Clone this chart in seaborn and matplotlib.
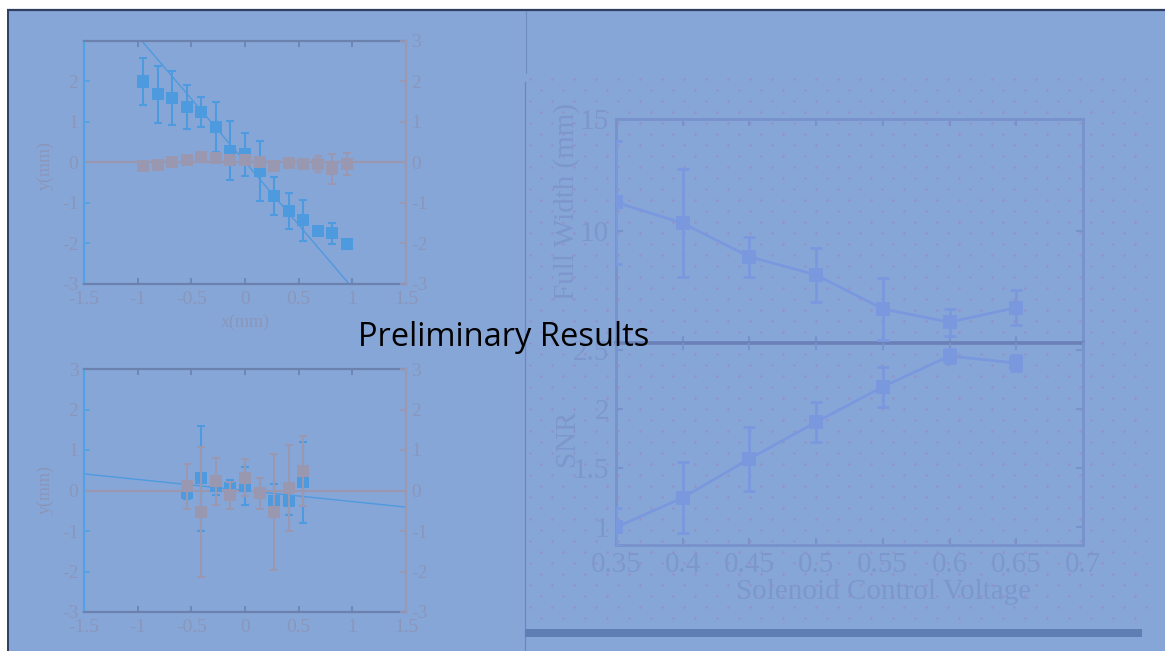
import numpy as np
import matplotlib
matplotlib.use("Agg")
import matplotlib.pyplot as plt
import seaborn as sns
from matplotlib.patches import Rectangle

# ---------------- data ----------------
# upper-left panel: beam position scan
top_x = [-0.95, -0.81, -0.68, -0.54, -0.41, -0.27, -0.14, 0.0,
         0.14, 0.27, 0.41, 0.54, 0.68, 0.81, 0.95]
top_blue_y = [2.0, 1.68, 1.6, 1.37, 1.24, 0.88, 0.29, 0.2,
              -0.21, -0.83, -1.19, -1.43, -1.69, -1.75, -2.01]
top_blue_err = [0.57, 0.71, 0.67, 0.54, 0.37, 0.61, 0.73, 0.53,
                0.73, 0.46, 0.44, 0.5, 0.0, 0.26, 0.0]
top_gray_y = [-0.08, -0.05, 0.02, 0.07, 0.13, 0.1, 0.05, 0.07,
              0.01, -0.08, -0.02, -0.03, -0.04, -0.17, -0.03]
top_gray_err = [0.0, 0.0, 0.0, 0.0, 0.0, 0.0, 0.0, 0.0,
                0.0, 0.0, 0.0, 0.0, 0.2, 0.37, 0.27]
top_fit_x = [-0.96, 0.97]
top_fit_y = [3.0, -3.0]

# lower-left panel
bot_x = [-0.54, -0.41, -0.27, -0.14, 0.0, 0.14, 0.27, 0.41, 0.54]
bot_blue_y = [-0.05, 0.3, 0.1, 0.05, 0.1, -0.05, -0.25, -0.25, 0.2]
bot_blue_err = [0.15, 1.3, 0.2, 0.2, 0.47, 0.1, 0.4, 0.35, 1.0]
bot_gray_y = [0.1, -0.53, 0.23, -0.12, 0.32, -0.07, -0.53, 0.07, 0.48]
bot_gray_err = [0.55, 1.6, 0.58, 0.33, 0.45, 0.38, 1.44, 1.06, 0.86]
bot_fit_x = [-1.5, 1.5]
bot_fit_y = [0.41, -0.41]

zero_x = [-1.5, 1.5]
zero_y = [0.0, 0.0]

pos_ticks = [-1.5, -1, -0.5, 0, 0.5, 1, 1.5]
pos_tick_labels = ["-1.5", "-1", "-0.5", "0", "0.5", "1", "1.5"]
y_ticks = [-3, -2, -1, 0, 1, 2, 3]
y_tick_labels = ["-3", "-2", "-1", "0", "1", "2", "3"]

# right panel: solenoid scan
voltage = [0.35, 0.4, 0.45, 0.5, 0.55, 0.6, 0.65]
width_mm = [11.28, 10.35, 8.85, 8.04, 6.52, 5.93, 6.58]
width_err = [2.76, 2.4, 0.9, 1.2, 1.4, 0.6, 0.77]
snr = [1.0, 1.25, 1.58, 1.89, 2.19, 2.45, 2.39]
snr_err = [0.16, 0.3, 0.27, 0.17, 0.17, 0.06, 0.07]

volt_ticks = [0.35, 0.4, 0.45, 0.5, 0.55, 0.6, 0.65, 0.7]
volt_tick_labels = ["0.35", "0.4", "0.45", "0.5", "0.55", "0.6", "0.65", "0.7"]
width_ticks = [5, 10, 15]
width_tick_labels = ["", "10", "15"]
snr_ticks = [1, 1.5, 2, 2.5]
snr_tick_labels = ["1", "1.5", "2", "2.5"]

# ---------------- style ----------------
sns.set_style("ticks")
plt.rcParams["font.family"] = ["Liberation Serif", "DejaVu Serif"]
plt.rcParams["axes.unicode_minus"] = False

W, H = 1165, 651
BG = "#87a6d8"
FRAME = "#2e3f5f"
BLUE = "#4d9ade"
GRAY = "#9a97b0"
BLUE_SPINE = "#52a3e6"
GRAY_SPINE = "#9b98b2"
TB_SPINE = "#6b81ae"
TXT_L = "#8a96ba"
R_COL = "#7a98dd"
R_SPINE = "#7892cc"
R_TXT = "#7d97cc"
DOT = "#9592c6"


def box(l, t, r, b):
    return [l / W, 1 - b / H, (r - l) / W, (b - t) / H]


def ftext(x, y, s, **kw):
    fig.text(x / W, 1 - y / H, s, **kw)


fig = plt.figure(figsize=(W / 100, H / 100), dpi=100, facecolor="white")

# slide background, frame and decorative dot pattern
bg = fig.add_axes([0, 0, 1, 1], zorder=-5)
bg.set_xlim(0, W)
bg.set_ylim(H, 0)
bg.axis("off")
bg.add_patch(Rectangle((8, 11), W - 8, H - 11, facecolor=BG, edgecolor="none",
                       zorder=0))
bg.plot([7, W], [10, 10], color=FRAME, lw=1.6, solid_capstyle="butt")
bg.plot([7.5, 7.5], [10, H], color=FRAME, lw=1.4, solid_capstyle="butt")
bg.plot([526, 526], [11, 73], color="#6f8bc0", lw=0.8)
bg.plot([525, 525], [82, H], color="#6a86bb", lw=0.9)
rows = np.arange(79, 625, 11)
for i, yy in enumerate(rows):
    xs = np.arange(530 + (11 if i % 2 else 0), 1152, 22)
    bg.scatter(xs, np.full(len(xs), yy), s=3.5, color=DOT, linewidths=0,
               zorder=2)
bg.add_patch(Rectangle((525, 629), 617, 8, facecolor="#5f7eb3",
                       edgecolor="none", zorder=3))


def left_panel(ax, xs, by, be, gy, ge, fx, fy, left_labels):
    ax.set_facecolor("none")
    sns.lineplot(x=fx, y=fy, ax=ax, color=BLUE, lw=1.0, zorder=2)
    sns.lineplot(x=zero_x, y=zero_y, ax=ax, color=GRAY, lw=1.6, zorder=2)
    ax.errorbar(xs, by, yerr=be, fmt="none", ecolor=BLUE, elinewidth=1.5,
                capsize=3, capthick=1.5, zorder=3)
    sns.scatterplot(x=xs, y=by, ax=ax, marker="s", s=75, color=BLUE,
                    edgecolor="none", zorder=4)
    ax.errorbar(xs, gy, yerr=ge, fmt="none", ecolor=GRAY, elinewidth=1.5,
                capsize=3, capthick=1.5, zorder=5)
    sns.scatterplot(x=xs, y=gy, ax=ax, marker="s", s=75, color=GRAY,
                    edgecolor="none", zorder=6)
    ax.set_xlim(-1.5, 1.5)
    ax.set_ylim(-3, 3)
    ax.set_xticks(pos_ticks)
    ax.set_xticklabels(pos_tick_labels)
    ax.set_yticks(y_ticks)
    if left_labels:
        ax.set_yticklabels(y_tick_labels)
    else:
        ax.set_yticklabels(y_tick_labels[:-1] + [""])
    ax.set_xlabel("")
    ax.set_ylabel("")
    ax.tick_params(axis="x", direction="in", length=4, width=1.2, top=True,
                   bottom=True, colors=TB_SPINE, labelcolor=TXT_L,
                   labelsize=14, pad=5)
    ax.tick_params(axis="y", direction="in", length=4, width=1.2, left=True,
                   right=False, colors=BLUE_SPINE, labelcolor=TXT_L,
                   labelsize=14, pad=4)
    for side in ("top", "bottom"):
        ax.spines[side].set_color(TB_SPINE)
        ax.spines[side].set_linewidth(1.6)
    ax.spines["left"].set_color(BLUE_SPINE)
    ax.spines["left"].set_linewidth(1.6)
    ax.spines["right"].set_visible(False)

    ax2 = ax.twinx()
    ax2.set_facecolor("none")
    ax2.set_ylim(-3, 3)
    ax2.set_yticks(y_ticks)
    ax2.set_yticklabels(y_tick_labels)
    ax2.tick_params(axis="y", direction="in", length=4, width=1.2,
                    colors=GRAY_SPINE, labelcolor=TXT_L, labelsize=14, pad=4)
    for side in ("top", "bottom", "left"):
        ax2.spines[side].set_visible(False)
    ax2.spines["right"].set_color(GRAY_SPINE)
    ax2.spines["right"].set_linewidth(1.6)
    ax2.grid(False)


ax_top = fig.add_axes(box(84, 41, 406, 284))
left_panel(ax_top, top_x, top_blue_y, top_blue_err, top_gray_y, top_gray_err,
           top_fit_x, top_fit_y, left_labels=False)
ax_bot = fig.add_axes(box(84, 369, 406, 612))
left_panel(ax_bot, bot_x, bot_blue_y, bot_blue_err, bot_gray_y, bot_gray_err,
           bot_fit_x, bot_fit_y, left_labels=True)

ftext(45, 165, "y(mm)", rotation=90, ha="center", va="center",
      fontsize=13, color=TXT_L)
ftext(245, 322, "x(mm)", ha="center", va="center", fontsize=13, color=TXT_L)
ftext(45, 490, "y(mm)", rotation=90, ha="center", va="center",
      fontsize=13, color=TXT_L)
ftext(245, 650, "x(mm)", ha="center", va="top", fontsize=13, color=TXT_L)

# right: stacked panels sharing the voltage axis
ax_w = fig.add_axes(box(616, 119, 1083, 343))
ax_s = fig.add_axes(box(616, 343, 1083, 545))

for ax, yv, ye in ((ax_w, width_mm, width_err), (ax_s, snr, snr_err)):
    ax.set_facecolor("none")
    ax.errorbar(voltage, yv, yerr=ye, fmt="none", ecolor=R_COL,
                elinewidth=2, capsize=4, capthick=2, zorder=3)
    sns.lineplot(x=voltage, y=yv, ax=ax, color=R_COL, lw=2, marker="s",
                 markersize=10, markeredgewidth=0, zorder=4)
    ax.set_xlim(0.35, 0.7)
    ax.set_xticks(volt_ticks)
    ax.set_xlabel("")
    ax.set_ylabel("")
    ax.tick_params(direction="in", length=5, width=1.5, top=True,
                   bottom=True, left=True, right=True, colors=R_SPINE,
                   labelcolor=R_TXT, labelsize=21, pad=5)
    for sp in ax.spines.values():
        sp.set_color(R_SPINE)
        sp.set_linewidth(2)

ax_w.set_ylim(5.1, 15.0)
ax_w.set_yticks(width_ticks)
ax_w.set_yticklabels(width_tick_labels)
ax_w.set_xticklabels([])
ax_w.spines["bottom"].set_color("#6a80b6")
ax_w.spines["bottom"].set_linewidth(2.6)

ax_s.set_ylim(0.85, 2.56)
ax_s.set_yticks(snr_ticks)
ax_s.set_yticklabels(snr_tick_labels)
ax_s.set_xticklabels(volt_tick_labels)
ax_s.spines["top"].set_visible(False)

ftext(567, 202, "Full Width (mm)", rotation=90, ha="center", va="center",
      fontsize=21, color=R_TXT)
ftext(567, 438, "SNR", rotation=90, ha="center", va="center",
      fontsize=21, color=R_TXT)
ftext(884, 592, "Solenoid Control Voltage", ha="center", va="center",
      fontsize=21, color=R_TXT)

# slide title
fig.text(504 / W, 1 - 337 / H, "Preliminary Results", ha="center",
         va="center", fontsize=23.5, color="black",
         family=["Open Sans", "DejaVu Sans"], zorder=20)

fig.savefig("out.png", dpi=100, facecolor="white")
